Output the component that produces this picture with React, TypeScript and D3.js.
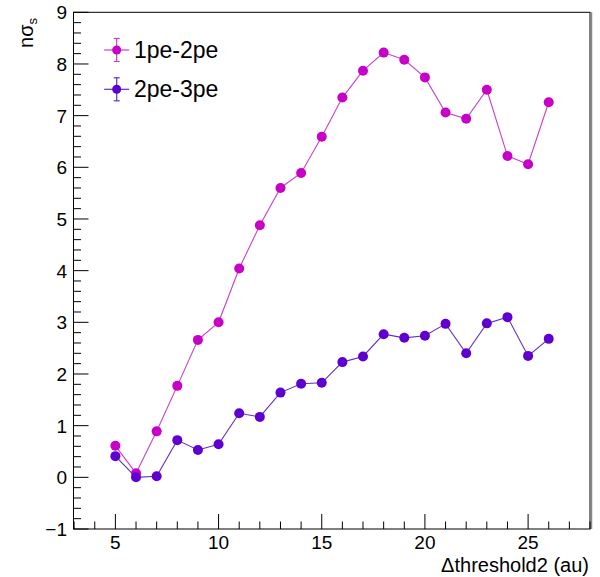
import React from "react";
import * as d3 from "d3";

const thresholds = [5, 6, 7, 8, 9, 10, 11, 12, 13, 14, 15, 16, 17, 18, 19, 20, 21, 22, 23, 24, 25, 26];
const series1pe2pe = [0.61, 0.08, 0.89, 1.77, 2.66, 3.0, 4.04, 4.88, 5.6, 5.89, 6.59, 7.35, 7.87, 8.22, 8.08, 7.74, 7.06, 6.94, 7.5, 6.22, 6.06, 7.26];
const series2pe3pe = [0.41, 0.0, 0.02, 0.72, 0.53, 0.64, 1.24, 1.17, 1.64, 1.81, 1.83, 2.23, 2.34, 2.77, 2.7, 2.74, 2.97, 2.4, 2.98, 3.1, 2.35, 2.68];
const seriesNames = ["1pe-2pe", "2pe-3pe"];
const xMajorTicks = [5, 10, 15, 20, 25];
const yMajorTicks = [-1, 0, 1, 2, 3, 4, 5, 6, 7, 8, 9];

const W = 600;
const H = 577;
const L = 73.5;
const R = 590;
const T = 12.3;
const B = 529;

const colors = [
  { marker: "#c800c8", line: "#c840c8" },
  { marker: "#6000d0", line: "#6030c0" },
];

export default function App() {
  const x = d3.scaleLinear().domain([2.97, 28.0]).range([L, R]);
  const y = d3.scaleLinear().domain([-1, 9]).range([B, T]);
  const font = "'Liberation Sans', Arial, Helvetica, sans-serif";

  const xMinor = d3.range(3, 29, 1).filter((v) => !xMajorTicks.includes(v));
  const yMinor = d3.range(-1, 9.001, 0.2).map((v) => Math.round(v * 10) / 10).filter((v) => Math.abs(v - Math.round(v)) > 1e-6);

  const allSeries = [series1pe2pe, series2pe3pe];
  const line = d3
    .line<[number, number]>()
    .x((d) => x(d[0]))
    .y((d) => y(d[1]));

  return (
    <svg width={W} height={H} style={{ position: "absolute", left: 0, top: 0, background: "#fff" }} fontFamily={font}>
      <rect x={0} y={0} width={W} height={H} fill="#fff" />
      {/* frame */}
      <rect x={L} y={T} width={R - L} height={B - T} fill="none" stroke="#000" strokeWidth={1} />
      <line x1={R + 1.5} x2={R + 1.5} y1={T} y2={B} stroke="#888" strokeWidth={1.5} />

      {/* x ticks */}
      {xMajorTicks.map((v) => (
        <g key={"xm" + v}>
          <line x1={x(v)} x2={x(v)} y1={B} y2={B - 15} stroke="#000" />
          <text x={x(v)} y={549} fontSize={19} textAnchor="middle" fill="#000">
            {v}
          </text>
        </g>
      ))}
      {xMinor.map((v) => (
        <line key={"xn" + v} x1={x(v)} x2={x(v)} y1={B} y2={B - 7.5} stroke="#000" />
      ))}

      {/* y ticks */}
      {yMajorTicks.map((v) => (
        <g key={"ym" + v}>
          <line x1={L} x2={L + 15} y1={y(v)} y2={y(v)} stroke="#000" />
          <text x={67} y={y(v) + 7} fontSize={19} textAnchor="end" fill="#000">
            {v < 0 ? "\u2212" + Math.abs(v) : v}
          </text>
        </g>
      ))}
      {yMinor.map((v) => (
        <line key={"yn" + v} x1={L} x2={L + 7.5} y1={y(v)} y2={y(v)} stroke="#000" />
      ))}

      {/* axis titles */}
      <text x={589} y={572} fontSize={20} textAnchor="end" fill="#000">
        {"\u0394threshold2 (au)"}
      </text>
      <text transform="translate(33,18) rotate(-90)" fontSize={20} textAnchor="end" fill="#000">
        {"n\u03c3"}
        <tspan fontSize={13} dy={4}>
          s
        </tspan>
      </text>

      {/* series */}
      {allSeries.map((vals, i) => {
        const pts: [number, number][] = thresholds.map((t, j) => [t, vals[j]]);
        return (
          <g key={"s" + i}>
            <path d={line(pts) || ""} fill="none" stroke={colors[i].line} strokeWidth={1.1} />
            {pts.map((p, j) => (
              <circle key={j} cx={x(p[0])} cy={y(p[1])} r={5} fill={colors[i].marker} />
            ))}
          </g>
        );
      })}

      {/* legend */}
      {seriesNames.map((name, i) => {
        const cy = 50 + i * 39.3;
        const cx = 116.7;
        return (
          <g key={"lg" + i}>
            <line x1={cx - 12.5} x2={cx + 12.5} y1={cy} y2={cy} stroke={colors[i].line} strokeWidth={1.2} />
            <line x1={cx} x2={cx} y1={cy - 11.5} y2={cy + 11.5} stroke={colors[i].line} strokeWidth={1.2} />
            <line x1={cx - 3} x2={cx + 3} y1={cy - 11.5} y2={cy - 11.5} stroke={colors[i].line} strokeWidth={1.2} />
            <line x1={cx - 3} x2={cx + 3} y1={cy + 11.5} y2={cy + 11.5} stroke={colors[i].line} strokeWidth={1.2} />
            <circle cx={cx} cy={cy} r={4.5} fill={colors[i].marker} />
            <text x={134} y={cy + 8} fontSize={23} fill="#000">
              {name}
            </text>
          </g>
        );
      })}
    </svg>
  );
}
